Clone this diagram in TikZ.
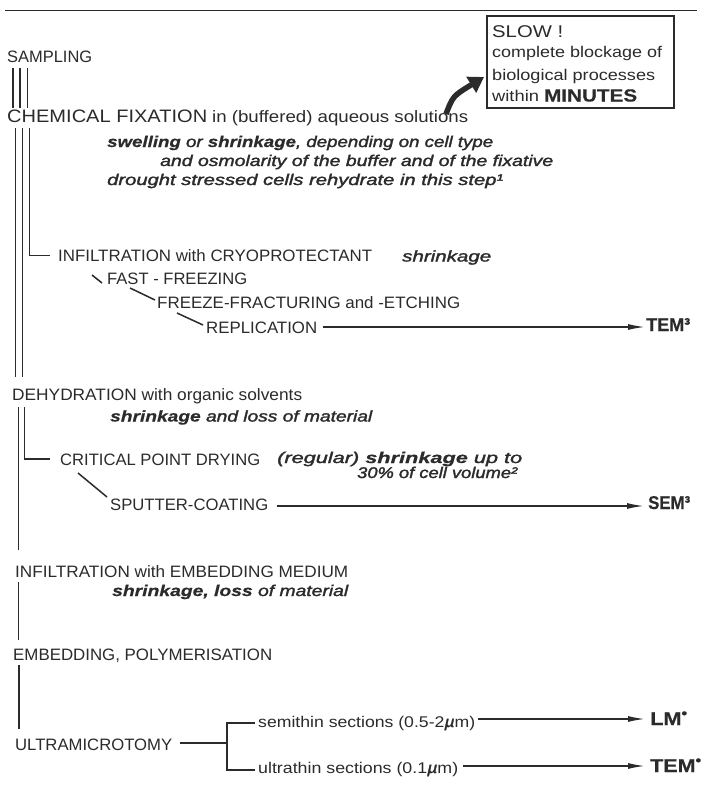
\documentclass[tikz,border=0pt]{standalone}
\usepackage{fontspec}
\setmainfont{Liberation Sans}[ItalicFeatures={RawFeature={embolden=1.6}},BoldFeatures={RawFeature={embolden=0.4}},BoldItalicFeatures={RawFeature={embolden=0.4}}]
\usepackage{graphicx}
\usetikzlibrary{arrows.meta}
\definecolor{ink}{HTML}{2B2B2B}
\newcommand\fitw[2]{\resizebox{#1}{\height}{#2}}
\newcommand\sbul{\raisebox{0.38em}{\fontsize{14}{14}\selectfont •}}
\begin{document}
\begin{tikzpicture}[x=1pt,y=-1pt,
  lbl/.style={anchor=base west, inner sep=0pt, text=ink, font=\fontsize{16.5}{19}\selectfont},
  big/.style={lbl, font=\fontsize{18}{20}\selectfont},
  itl/.style={lbl, font=\fontsize{15.5}{19}\selectfont\itshape},
  sml/.style={lbl, font=\fontsize{15.5}{18}\selectfont},
  res/.style={lbl, font=\fontsize{18.5}{20}\selectfont\bfseries},
  conn/.style={draw=ink, line width=1.5pt},
  arr/.style={conn, -{Latex[length=17pt,width=6pt]}}]
\useasboundingbox (0,0) rectangle (702,793);
\fill[white] (0,0) rectangle (702,793);
% top rule
\coordinate (r1) at (5,10); \coordinate (r2) at (697,10);
\draw[ink, line width=1pt] (r1) -- (r2);
% box
\node[draw=ink, line width=1.7pt, anchor=north west, minimum width=187pt, minimum height=92pt, inner sep=0pt] (box) at (486,15) {};
\node[lbl, font=\fontsize{17}{20}\selectfont] (slow) at (492,37) {\fitw{71pt}{SLOW !}};
\node[sml] (bl1) at (492,57) {\fitw{170pt}{complete blockage of}};
\node[sml] (bl2) at (492,80) {\fitw{163pt}{biological processes}};
\node[sml] (bl3) at (492,101.5) {\fitw{145pt}{within {\fontsize{17.5}{20}\selectfont\bfseries MINUTES}}};
\coordinate (ca) at (446,114); \coordinate (cb) at (484,77);
\draw[ink, line width=5.5pt, -{Triangle[length=15pt,width=18pt]}] (ca) .. controls (453,96) .. (cb);
% texts
\node[lbl] (samp) at (7,62) {\fitw{85pt}{SAMPLING}};
\node[big] (chem) at (7,122.5) {\fitw{200pt}{CHEMICAL FIXATION}};
\node[lbl] (chem2) at (212,122.5) {\fitw{256pt}{in (buffered) aqueous solutions}};
\node[itl] (sw) at (107,147) {\fitw{386pt}{\textbf{swelling} or \textbf{shrinkage}, depending on cell type}};
\node[itl] (osm) at (160,166) {\fitw{393pt}{and osmolarity of the buffer and of the fixative}};
\node[itl] (dro) at (107,185) {\fitw{396pt}{drought stressed cells rehydrate in this step¹}};
\node[lbl] (infc) at (58,261.5) {\fitw{314pt}{INFILTRATION with CRYOPROTECTANT}};
\node[itl] (shr1) at (402,261.5) {\fitw{89pt}{shrinkage}};
\node[lbl] (fast) at (107,284) {\fitw{140pt}{FAST - FREEZING}};
\node[lbl] (frz) at (157,308.5) {\fitw{303pt}{FREEZE-FRACTURING and -ETCHING}};
\node[lbl] (rep) at (206,333) {\fitw{111pt}{REPLICATION}};
\node[res] (tem1) at (646,331) {\fitw{44pt}{TEM³}};
\node[lbl] (dehy) at (12,400) {\fitw{290pt}{DEHYDRATION with organic solvents}};
\node[itl] (shl) at (110,421.5) {\fitw{262pt}{\textbf{shrinkage} and loss of material}};
\node[lbl] (cpd) at (60,465) {\fitw{200pt}{CRITICAL POINT DRYING}};
\node[itl] (reg) at (277,463) {\fitw{245pt}{(regular) \textbf{shrinkage} up to}};
\node[itl] (vol) at (357,478) {\fitw{160pt}{30\% of cell volume²}};
\node[lbl] (sput) at (110,510) {\fitw{158pt}{SPUTTER-COATING}};
\node[res] (sem) at (648,509) {\fitw{42pt}{SEM³}};
\node[lbl] (infe) at (15,577) {\fitw{333pt}{INFILTRATION with EMBEDDING MEDIUM}};
\node[itl] (shl2) at (112,596) {\fitw{236pt}{\textbf{shrinkage, loss} of material}};
\node[lbl] (emb) at (13,660) {\fitw{259pt}{EMBEDDING, POLYMERISATION}};
\node[lbl] (ultra) at (15,750) {\fitw{157pt}{ULTRAMICROTOMY}};
\node[sml] (semi) at (258,727) {\fitw{217pt}{semithin sections (0.5-2\textit{µ}m)}};
\node[sml] (thin) at (258,773) {\fitw{200pt}{ultrathin sections (0.1\textit{µ}m)}};
\node[res] (lm) at (650,725) {\fitw{37pt}{LM\sbul}};
\node[res] (tem2) at (650,772) {\fitw{51pt}{TEM\sbul}};
% connectors
\coordinate (a1) at (13,68); \coordinate (a2) at (13,108);
\coordinate (b1) at (20,68); \coordinate (b2) at (20,108);
\coordinate (c1) at (27.5,68); \coordinate (c2) at (27.5,108);
\draw[conn] (a1) -- (a2); \draw[conn] (b1) -- (b2); \draw[conn] (c1) -- (c2);
\coordinate (d1) at (15.5,128); \coordinate (d2) at (15.5,377);
\coordinate (e1) at (22.5,128); \coordinate (e2) at (22.5,377);
\coordinate (f1) at (29.5,128); \coordinate (f2) at (50,255.5);
\draw[conn] (d1) -- (d2); \draw[conn] (e1) -- (e2); \draw[conn] (f1) |- (f2);
\coordinate (g1) at (92,275); \coordinate (g2) at (102,283);
\coordinate (h1) at (130,288); \coordinate (h2) at (155,300);
\coordinate (i1) at (177,313); \coordinate (i2) at (203,325);
\draw[conn] (g1) -- (g2); \draw[conn] (h1) -- (h2); \draw[conn] (i1) -- (i2);
\coordinate (j1) at (323,327); \coordinate (j2) at (645,327);
\draw[arr] (j1) -- (j2);
\coordinate (k1) at (18.5,407); \coordinate (k2) at (18.5,550);
\coordinate (l1) at (24.5,407); \coordinate (l2) at (50,459);
\draw[conn] (k1) -- (k2); \draw[conn] (l1) |- (l2);
\coordinate (m1) at (78,473); \coordinate (m2) at (107,497);
\draw[conn] (m1) -- (m2);
\coordinate (n1) at (277,506); \coordinate (n2) at (644,506);
\draw[arr] (n1) -- (n2);
\coordinate (o1) at (18.5,582); \coordinate (o2) at (18.5,640);
\draw[conn] (o1) -- (o2);
\coordinate (p1) at (19,665); \coordinate (p2) at (19,729);
\draw[conn] (p1) -- (p2);
\coordinate (q1) at (180,743); \coordinate (q2) at (227,743);
\draw[conn] (q1) -- (q2);
\coordinate (t1) at (255,723); \coordinate (t2) at (255,770);
\draw[conn] (t1) -| (q2) |- (t2);
\coordinate (u1) at (478,719); \coordinate (u2) at (645,719);
\draw[arr] (u1) -- (u2);
\coordinate (v1) at (463,766); \coordinate (v2) at (645,766);
\draw[arr] (v1) -- (v2);
\end{tikzpicture}
\end{document}
